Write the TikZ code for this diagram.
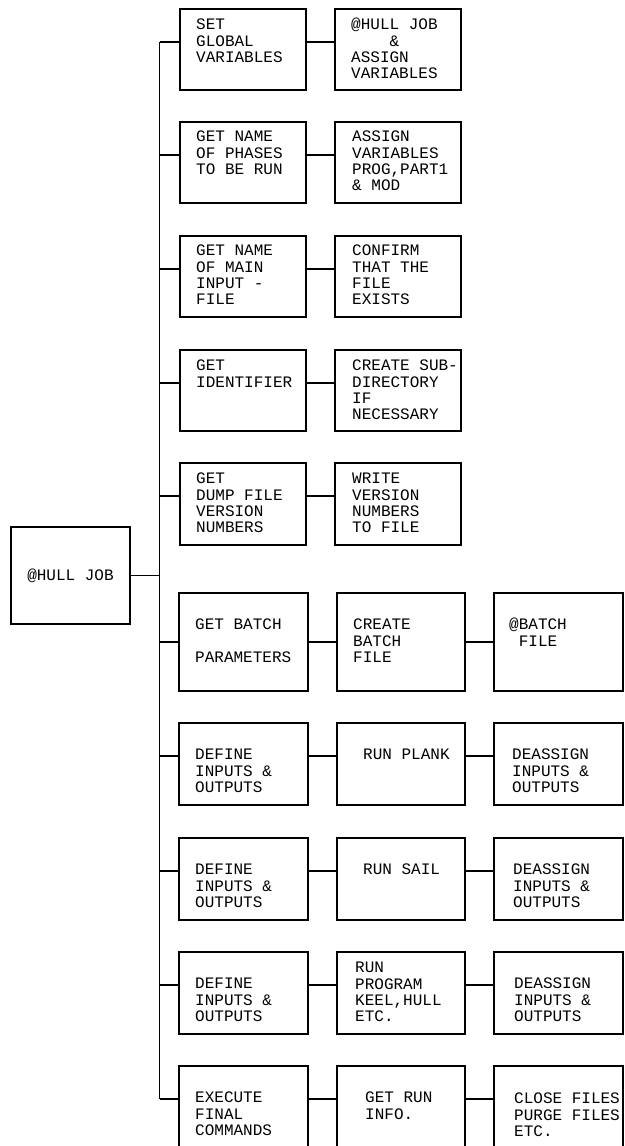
\documentclass[tikz,border=0pt]{standalone}
\usepackage{fontspec}
\setmonofont{Liberation Mono}
\newcommand\mystrut{\rule{0pt}{12pt}}
\begin{document}
\begin{tikzpicture}[x=1pt,y=-1pt,
  box/.style={draw, line width=1.1pt, anchor=north west, inner sep=0pt, outer sep=0pt},
  txt/.style={anchor=north west, inner sep=0pt, align=left, font=\ttfamily\fontsize{16}{16.4}\selectfont},
  conn/.style={line width=1.1pt}]
\useasboundingbox[fill=white] (0,0) rectangle (624,1146);

% root
\node[draw, line width=1.1pt, inner sep=0pt, minimum width=119pt, minimum height=97pt,
      font=\ttfamily\fontsize{16}{16.4}\selectfont] (root) at (70.5,575.5) {@HULL JOB};

% rows 1-5 boxes
\node[box, minimum width=126pt, minimum height=81pt] (a1) at (180,9) {};
\node[box, minimum width=126pt, minimum height=81pt] (b1) at (335,9) {};
\node[box, minimum width=126pt, minimum height=81pt] (a2) at (180,122) {};
\node[box, minimum width=126pt, minimum height=81pt] (b2) at (335,122) {};
\node[box, minimum width=126pt, minimum height=81pt] (a3) at (180,236) {};
\node[box, minimum width=126pt, minimum height=81pt] (b3) at (335,236) {};
\node[box, minimum width=126pt, minimum height=81pt] (a4) at (180,350) {};
\node[box, minimum width=126pt, minimum height=81pt] (b4) at (335,350) {};
\node[box, minimum width=126pt, minimum height=82pt] (a5) at (180,463) {};
\node[box, minimum width=126pt, minimum height=82pt] (b5) at (335,463) {};
% rows 6-10 boxes
\node[box, minimum width=129pt, minimum height=98pt] (a6) at (179,593) {};
\node[box, minimum width=128pt, minimum height=98pt] (b6) at (337,593) {};
\node[box, minimum width=129pt, minimum height=98pt] (c6) at (494,593) {};
\node[box, minimum width=129pt, minimum height=82pt] (a7) at (179,723) {};
\node[box, minimum width=128pt, minimum height=82pt] (b7) at (337,723) {};
\node[box, minimum width=129pt, minimum height=82pt] (c7) at (494,723) {};
\node[box, minimum width=129pt, minimum height=82pt] (a8) at (179,838) {};
\node[box, minimum width=128pt, minimum height=82pt] (b8) at (337,838) {};
\node[box, minimum width=129pt, minimum height=82pt] (c8) at (494,838) {};
\node[box, minimum width=129pt, minimum height=82pt] (a9) at (179,952) {};
\node[box, minimum width=128pt, minimum height=82pt] (b9) at (337,952) {};
\node[box, minimum width=129pt, minimum height=82pt] (c9) at (494,952) {};
\node[box, minimum width=129pt, minimum height=81pt] (a10) at (179,1066) {};
\node[box, minimum width=128pt, minimum height=81pt] (b10) at (337,1066) {};
\node[box, minimum width=129pt, minimum height=81pt] (c10) at (494,1066) {};

% texts
\node[txt] (ta1) at (196,17.5) {\mystrut SET\\GLOBAL\\VARIABLES};
\node[txt] (tb1) at (351,17.5) {\mystrut @HULL JOB\\\hphantom{XXXX}\&\\ASSIGN\\VARIABLES};
\node[txt] (ta2) at (196,129.5) {\mystrut GET NAME\\OF PHASES\\TO BE RUN};
\node[txt] (tb2) at (352,129.5) {\mystrut ASSIGN\\VARIABLES\\PROG,PART1\\\& MOD};
\node[txt] (ta3) at (196,243.5) {\mystrut GET NAME\\OF MAIN\\INPUT -\\FILE};
\node[txt] (tb3) at (352,243.5) {\mystrut CONFIRM\\THAT THE\\FILE\\EXISTS};
\node[txt] (ta4) at (196,358.5) {\mystrut GET\\IDENTIFIER};
\node[txt] (tb4) at (352,358.5) {\mystrut CREATE SUB-\\DIRECTORY\\IF\\NECESSARY};
\node[txt] (ta5) at (196,471.5) {\mystrut GET\\DUMP FILE\\VERSION\\NUMBERS};
\node[txt] (tb5) at (352,471.5) {\mystrut WRITE\\VERSION\\NUMBERS\\TO FILE};
\node[txt] (ta6) at (195,617.5) {\mystrut GET BATCH\\\mbox{}\\PARAMETERS};
\node[txt] (tb6) at (353,617.5) {\mystrut CREATE\\BATCH\\FILE};
\node[txt] (tc6) at (509,617.5) {\mystrut @BATCH\\\hphantom{X}FILE};
\node[txt] (ta7) at (195,747.5) {\mystrut DEFINE\\INPUTS \&\\OUTPUTS};
\node[txt] (tb7) at (363,747.5) {\mystrut RUN PLANK};
\node[txt] (tc7) at (512,747.5) {\mystrut DEASSIGN\\INPUTS \&\\OUTPUTS};
\node[txt] (ta8) at (195,862.5) {\mystrut DEFINE\\INPUTS \&\\OUTPUTS};
\node[txt] (tb8) at (363,862.5) {\mystrut RUN SAIL};
\node[txt] (tc8) at (513,862.5) {\mystrut DEASSIGN\\INPUTS \&\\OUTPUTS};
\node[txt] (ta9) at (195,976.5) {\mystrut DEFINE\\INPUTS \&\\OUTPUTS};
\node[txt] (tb9) at (355,960.5) {\mystrut RUN\\PROGRAM\\KEEL,HULL\\ETC.};
\node[txt] (tc9) at (514,976.5) {\mystrut DEASSIGN\\INPUTS \&\\OUTPUTS};
\node[txt] (ta10) at (195,1090.5) {\mystrut EXECUTE\\FINAL\\COMMANDS};
\node[txt] (tb10) at (365,1090.5) {\mystrut GET RUN\\INFO.};
\node[txt] (tc10) at (514,1091.5) {\mystrut CLOSE FILES\\PURGE FILES\\ETC.};

% junctions on the trunk
\coordinate (j0) at (159.5,575.5);
\coordinate (j1) at (159.5,42);
\coordinate (j2) at (159.5,155);
\coordinate (j3) at (159.5,269);
\coordinate (j4) at (159.5,383);
\coordinate (j5) at (159.5,496);
\coordinate (j6) at (159.5,642);
\coordinate (j7) at (159.5,756);
\coordinate (j8) at (159.5,871);
\coordinate (j9) at (159.5,985);
\coordinate (j10) at (159.5,1099);

\draw[conn] (root.east) -- (j0);
\draw[conn] (j1) -- (j10);
\foreach \i in {1,...,10}{
  \draw[conn] (j\i) -- (j\i -| a\i.west);
  \draw[conn] (j\i -| a\i.east) -- (j\i -| b\i.west);
}
\foreach \i in {6,...,10}{
  \draw[conn] (j\i -| b\i.east) -- (j\i -| c\i.west);
}
\end{tikzpicture}
\end{document}
